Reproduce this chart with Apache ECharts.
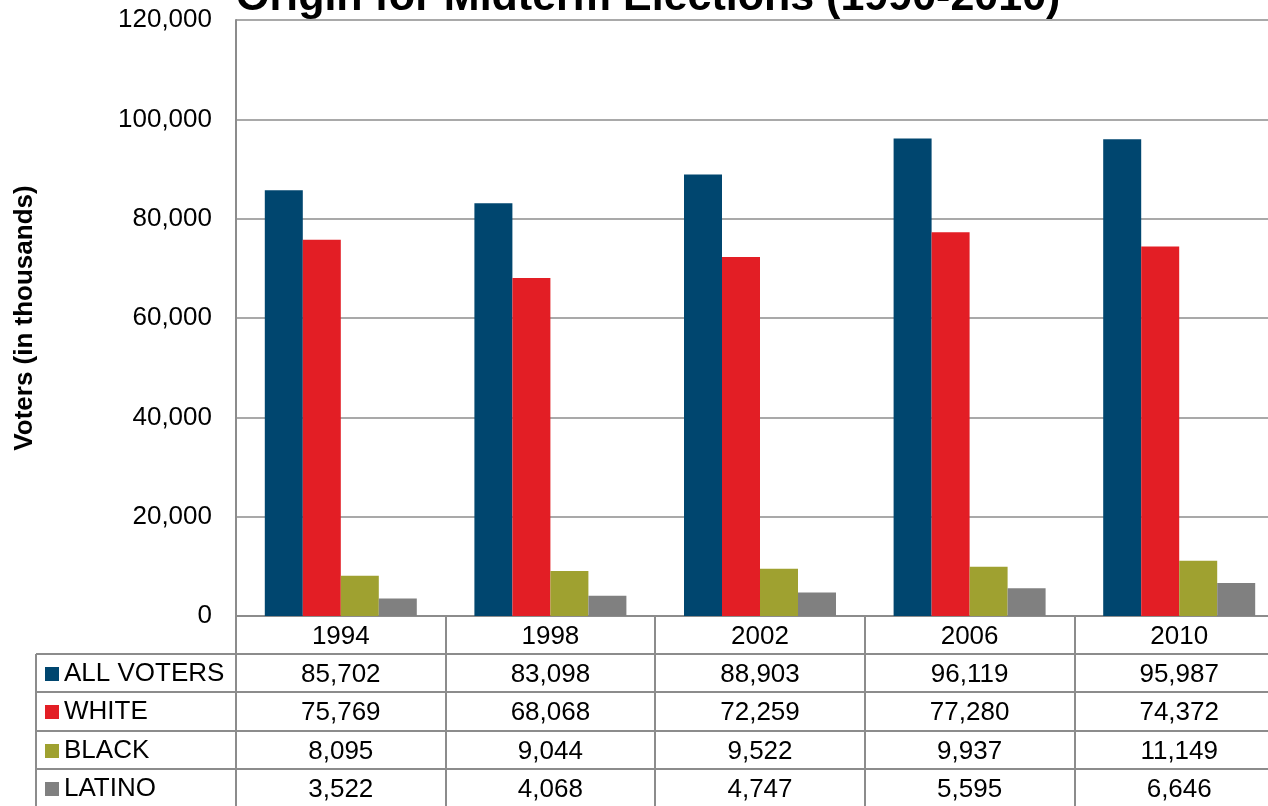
<!DOCTYPE html>
<html>
<head>
<meta charset="utf-8">
<script src="https://cdn.jsdelivr.net/npm/echarts@6/dist/echarts.min.js"></script>
<style>
html,body{margin:0;padding:0;background:#fff;overflow:hidden;width:1268px;height:806px;}
#chart{width:1290px;height:806px;}
</style>
</head>
<body>
<div id="chart"></div>
<script>
var years = ['1994', '1998', '2002', '2006', '2010'];
var seriesNames = ['ALL VOTERS', 'WHITE', 'BLACK', 'LATINO'];
var allVoters = [85702, 83098, 88903, 96119, 95987];
var white = [75769, 68068, 72259, 77280, 74372];
var black = [8095, 9044, 9522, 9937, 11149];
var latino = [3522, 4068, 4747, 5595, 6646];
var yTicks = [0, 20000, 40000, 60000, 80000, 100000, 120000];
var colors = ['#00466F', '#E31E25', '#9FA130', '#808080'];
var titleText = 'Origin for Midterm Elections (1990-2010)';
var yAxisTitle = 'Voters (in thousands)';

var values = [allVoters, white, black, latino];
var FONT = '"Liberation Sans", Arial, sans-serif';
var GRID = '#8C8C8C';
var FS = 26;
function fmt(v) { return v.toLocaleString('en-US'); }

var chart = echarts.init(document.getElementById('chart'));

var xAxes = [{
  type: 'category', data: years, gridIndex: 0, position: 'bottom',
  axisLine: { show: true, lineStyle: { color: GRID, width: 2 } },
  axisTick: { show: true, alignWithLabel: false, length: 38, lineStyle: { color: GRID, width: 2 } },
  axisLabel: { color: '#000', fontSize: FS, fontFamily: FONT, margin: 8 }
}];
var rowOffsets = [38, 76, 115, 153];
values.forEach(function (arr, i) {
  xAxes.push({
    type: 'category', data: arr.map(fmt), gridIndex: 0, position: 'bottom', offset: rowOffsets[i],
    axisLine: { show: true, lineStyle: { color: GRID, width: 2 } },
    axisTick: { show: true, length: 39, lineStyle: { color: GRID, width: 2 } },
    axisLabel: { color: '#000', fontSize: FS, fontFamily: FONT, margin: 8, interval: 0 }
  });
});

var series = seriesNames.map(function (name, i) {
  return {
    name: name, type: 'bar', xAxisIndex: 0, yAxisIndex: 0,
    data: values[i], barWidth: 38, barGap: '0%',
    itemStyle: { color: colors[i] }
  };
});

var rowCenters = [674, 712, 751, 789];
var legends = seriesNames.map(function (name, i) {
  return {
    orient: 'vertical', left: 45, top: rowCenters[i] - 14, padding: 0,
    itemWidth: 14, itemHeight: 14, icon: 'rect', selectedMode: false,
    textStyle: { color: '#000', fontSize: FS, fontFamily: FONT, lineHeight: 28 },
    data: [name]
  };
});

var graphics = [];
var rowYs = [654, 692, 731, 769];
rowYs.forEach(function (y) {
  graphics.push({ type: 'line', shape: { x1: 36, y1: y, x2: 236, y2: y }, style: { stroke: GRID, lineWidth: 2 } });
});
graphics.push({ type: 'line', shape: { x1: 36, y1: 654, x2: 36, y2: 806 }, style: { stroke: GRID, lineWidth: 2 } });
graphics.push({
  type: 'text', left: 236, top: -23,
  style: { text: titleText, font: 'bold 43px ' + FONT, fill: '#000' }
});

chart.setOption({
  backgroundColor: '#fff',
  animation: false,
  color: colors,
  grid: { left: 236, top: 20, width: 1048, bottom: 190, containLabel: false },
  legend: legends,
  xAxis: xAxes,
  yAxis: {
    type: 'value', min: yTicks[0], max: yTicks[yTicks.length - 1], interval: yTicks[1] - yTicks[0],
    name: yAxisTitle, nameLocation: 'middle', nameGap: 198, nameRotate: 90,
    nameTextStyle: { color: '#000', fontSize: FS, fontWeight: 'bold', fontFamily: FONT },
    axisLine: { show: true, lineStyle: { color: GRID, width: 2 } },
    axisTick: { show: false },
    splitLine: { show: true, lineStyle: { color: GRID, width: 1.5 } },
    axisLabel: { color: '#000', fontSize: FS, fontFamily: FONT, margin: 24, formatter: function (v) { return fmt(v); } }
  },
  graphic: graphics,
  series: series
});
</script>
</body>
</html>
